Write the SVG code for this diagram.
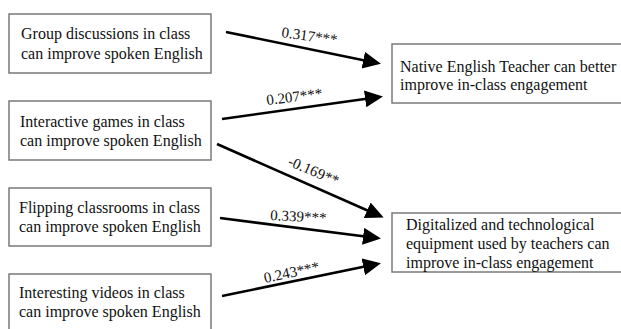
<svg xmlns="http://www.w3.org/2000/svg" width="621" height="329" viewBox="0 0 621 329">
<style>
.box{fill:#fff;stroke:#7a7a7a;stroke-width:1.5}
.t{font-family:"Liberation Serif",serif;font-size:16px;fill:#111}
.lbl{font-family:"Liberation Serif",serif;font-size:15px;fill:#111}
.c{stroke:#000;stroke-width:2.6;fill:none;marker-end:url(#ah)}
</style>
<defs>
<marker id="ah" markerUnits="userSpaceOnUse" markerWidth="20" markerHeight="18" refX="14" refY="8.5" orient="auto" viewBox="0 0 20 18">
<path d="M0,0 L18,8.5 L0,17 z" fill="#000"/>
</marker>
</defs>
<rect width="621" height="329" fill="#fff"/>
<g id="n1"><rect class="box" x="9" y="14" width="202" height="59"/><text class="t" x="21" y="39">Group discussions in class</text><text class="t" x="21" y="59">can improve spoken English</text></g>
<g id="n2"><rect class="box" x="9" y="101" width="202" height="59"/><text class="t" x="20" y="127">Interactive games in class</text><text class="t" x="20" y="146">can improve spoken English</text></g>
<g id="n3"><rect class="box" x="9" y="188" width="202" height="58"/><text class="t" x="19" y="213">Flipping classrooms in class</text><text class="t" x="19" y="232">can improve spoken English</text></g>
<g id="n4"><rect class="box" x="9" y="274" width="202" height="60"/><text class="t" x="19" y="298">Interesting videos in class</text><text class="t" x="19" y="317">can improve spoken English</text></g>
<g id="n5"><rect class="box" x="392" y="44" width="240" height="59"/><text class="t" x="400" y="72">Native English Teacher can better</text><text class="t" x="400" y="90">improve in-class engagement</text></g>
<g id="n6"><rect class="box" x="392" y="213" width="240" height="59"/><text class="t" x="406" y="230">Digitalized and technological</text><text class="t" x="406" y="249">equipment used by teachers can</text><text class="t" x="406" y="268">improve in-class engagement</text></g>
<g id="connectors">
<path class="c" d="M226,32 L377,63"/>
<path class="c" d="M222,119 L379,97"/>
<path class="c" d="M217,144 L380,216"/>
<path class="c" d="M220,218 L377,238"/>
<path class="c" d="M222,296 L377,264"/>
<text class="lbl" x="281" y="37" transform="rotate(8 281 37)">0.317***</text>
<text class="lbl" x="267" y="105" transform="rotate(-7 267 105)">0.207***</text>
<text class="lbl" x="287" y="165" transform="rotate(23 287 165)">-0.169**</text>
<text class="lbl" x="270" y="220" transform="rotate(3 270 220)">0.339***</text>
<text class="lbl" x="265" y="283" transform="rotate(-12 265 283)">0.243***</text>
</g>
</svg>
